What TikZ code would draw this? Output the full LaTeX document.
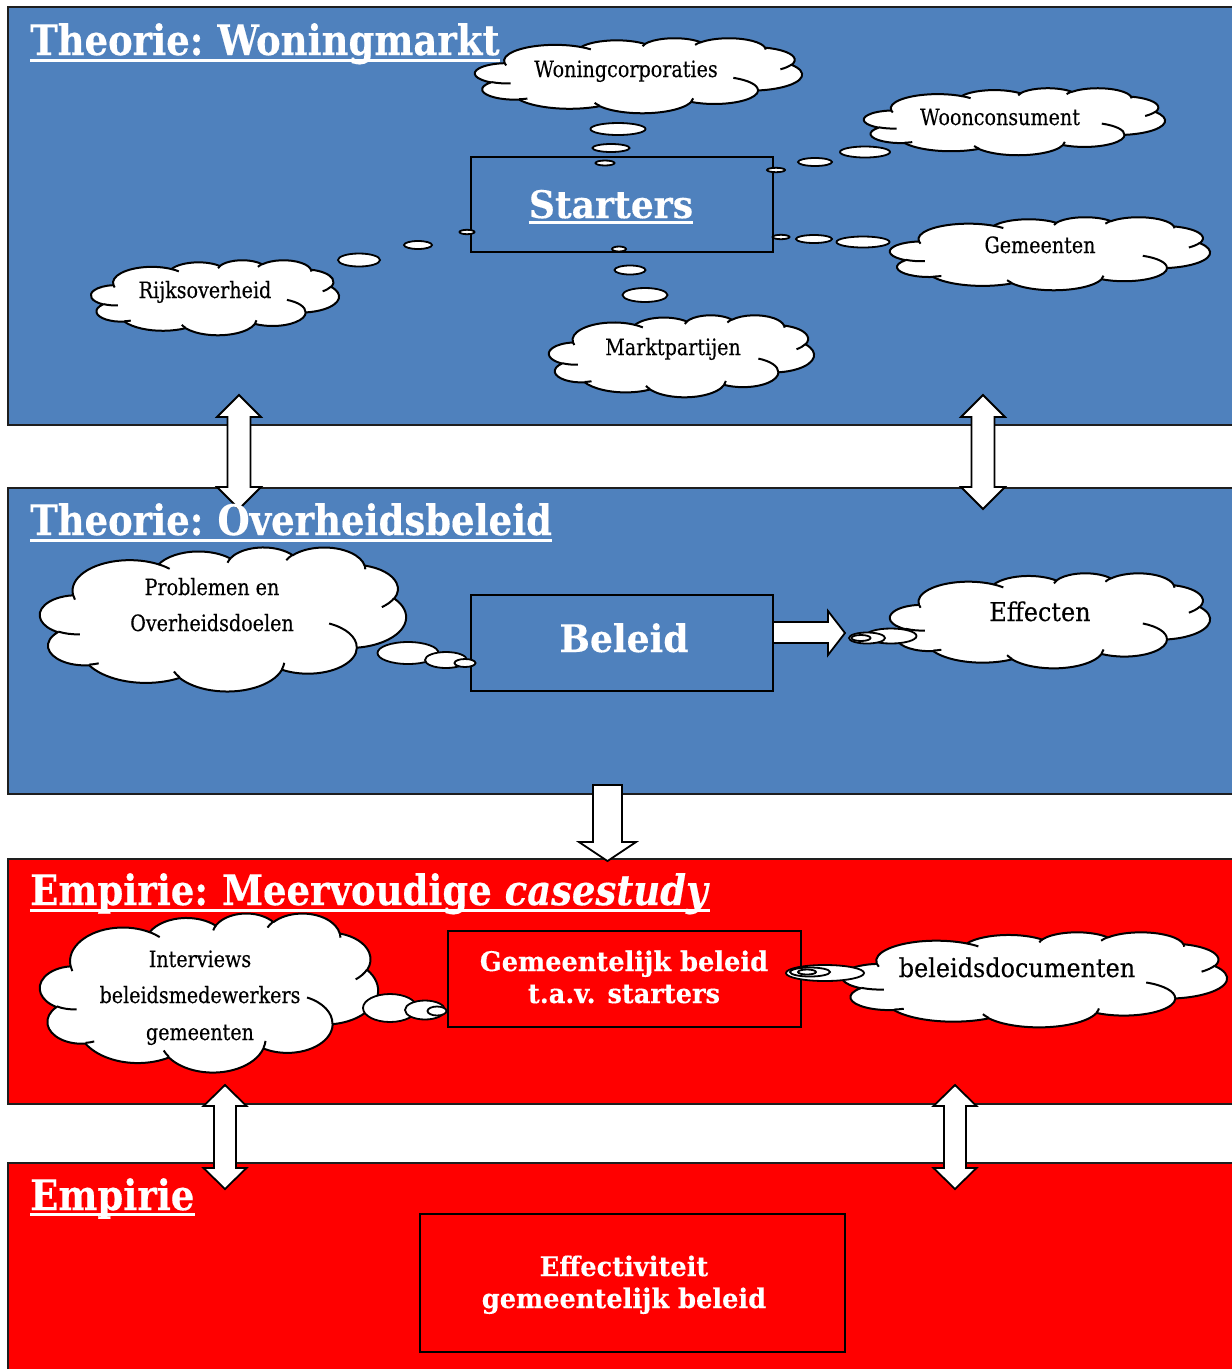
\documentclass[tikz,border=0pt]{standalone}
\usepackage{fontspec}
\setmainfont{DejaVu Serif}
\newfontfamily\headfont[FakeStretch=0.88, FakeBold=0.4]{DejaVu Serif}
\newfontfamily\boxfont[FakeStretch=0.95, FakeBold=0.3]{DejaVu Serif}
\newfontfamily\cloudfont[FakeStretch=0.85, FakeBold=0.25]{DejaVu Serif}
\newfontfamily\cloudfontl[FakeStretch=0.92, FakeBold=0.25]{DejaVu Serif}

\definecolor{pblue}{HTML}{4F81BD}
\definecolor{pred}{HTML}{FF0000}
\definecolor{pborder}{HTML}{1E1E1E}

% parametric angle on an ellipse for a given visual angle
\pgfmathdeclarefunction{vtp}{3}{%
  \begingroup
  \pgfmathsetmacro\vtpd{atan2((#1)*sin(#3),(#2)*cos(#3))-(#3)}%
  \pgfmathparse{(#3)+\vtpd-360*round(\vtpd/360)}%
  \pgfmathsmuggle\pgfmathresult
  \endgroup}

% elliptic arc given by radii, start angle and sweep
\newcommand\oarc[4]{arc[x radius=#1, y radius=#2, start angle={vtp(#1,#2,#3)}, end angle={vtp(#1,#2,(#3)+(#4))}]}

\tikzset{
  panelblue/.style={fill=pblue, draw=pborder, line width=1.6pt},
  panelred/.style={fill=pred, draw=pborder, line width=1.6pt},
  cloudline/.style={fill=white, draw=black, line width=2pt, line join=round},
  bubble/.style={fill=white, draw=black, line width=1.8pt},
  blockarrow/.style={fill=white, draw=black, line width=1.8pt, line join=miter},
  centerbox/.style={draw=black, line width=2pt, inner sep=0pt},
  headtxt/.style={text=white, inner sep=0pt, anchor=base west,
    font=\headfont\bfseries\fontsize{42}{42}\selectfont},
  bigtxt/.style={text=white, inner sep=0pt, anchor=base,
    font=\boxfont\bfseries\fontsize{38}{38}\selectfont},
  boxtxt/.style={text=white, inner sep=0pt, anchor=base,
    font=\boxfont\bfseries\fontsize{27}{27}\selectfont},
  cloudtxt/.style={text=black, inner sep=0pt, anchor=base,
    font=\cloudfont\fontsize{22.5}{22.5}\selectfont},
  cloudtxtl/.style={cloudtxt, font=\cloudfontl\fontsize{26}{26}\selectfont},
  uline/.style={white, line width=3pt},
}

% cloud outline with its inner folds, fitted to a box (left, top, width, height)
\newcommand\cloudshape[4]{%
  \begin{scope}[shift={(#1,#2)}, xscale=#3/43.2, yscale=#4/43.2]
    \filldraw[cloudline] (3.900,14.370)
      \oarc{6.753}{9.190}{-190.4875}{123.7805}
      \oarc{5.333}{7.267}{-144.1024}{89.9452}
      \oarc{4.365}{5.945}{-145.8079}{99.7230}
      \oarc{4.857}{6.595}{-130.9861}{117.2417}
      \oarc{5.333}{7.273}{-78.7089}{109.0269}
      \oarc{6.775}{9.220}{-46.2673}{130.2690}
      \oarc{5.785}{7.867}{0.6250}{114.0333}
      \oarc{6.752}{9.215}{22.4516}{115.1726}
      \oarc{7.720}{10.543}{66.2426}{75.7110}
      \oarc{4.360}{5.918}{-274.9421}{146.7356}
      \oarc{4.345}{5.945}{-246.8285}{152.5189}
      -- cycle;
    \draw[cloudline, fill=none]
      (4.693,26.177) \oarc{4.345}{5.945}{86.7420}{26.4295}
      (6.928,34.899) \oarc{4.360}{5.918}{73.6105}{11.4475}
      (16.478,39.090) \oarc{6.752}{9.215}{137.6242}{14.0811}
      (28.827,34.751) \oarc{6.752}{9.215}{6.4533}{15.9984}
      (34.129,22.954) \oarc{5.785}{7.867}{-70.2924}{70.9174}
      (41.798,15.354) \oarc{5.333}{7.273}{30.3180}{27.7515}
      (38.324,5.426) \oarc{4.857}{6.595}{-13.7443}{14.8589}
      (29.078,3.952) \oarc{4.857}{6.595}{-149.1815}{18.1954}
      (22.141,4.720) \oarc{4.365}{5.945}{-163.4943}{17.6864}
      (14.000,5.192) \oarc{6.753}{9.190}{-66.7070}{12.3194}
      (4.127,15.789) \oarc{6.753}{9.190}{157.6544}{11.8582};
  \end{scope}}

% vertical double block arrow: centre x, top tip, bottom tip, half head width, half shaft width, head length
\newcommand\dblarrow[6]{%
  \filldraw[blockarrow] (#1,#2) -- (#1+#4,#2+#6) -- (#1+#5,#2+#6) -- (#1+#5,#3-#6)
    -- (#1+#4,#3-#6) -- (#1,#3) -- (#1-#4,#3-#6) -- (#1-#5,#3-#6) -- (#1-#5,#2+#6)
    -- (#1-#4,#2+#6) -- cycle;}

% three thought bubbles, largest first
\newcommand\bubbles[9]{%
  \draw[bubble] #1 ellipse[x radius=#2, y radius=#3];
  \draw[bubble] #4 ellipse[x radius=#5, y radius=#6];
  \draw[bubble] #7 ellipse[x radius=#8, y radius=#9];}

\begin{document}
\begin{tikzpicture}[x=1pt, y=-1pt]
\useasboundingbox (0,0) rectangle (1232,1369);
\fill[white] (0,0) rectangle (1232,1369);

% panels
\path[panelblue] (8,7) rectangle (1240,425);
\path[panelblue] (8,488) rectangle (1240,794);
\path[panelred] (8,859) rectangle (1240,1104);
\path[panelred] (8,1163) rectangle (1240,1380);

% block arrows between the panels
\dblarrow{239}{395}{509}{22}{11.5}{22}
\dblarrow{983}{395}{509}{22}{11.5}{22}
\dblarrow{225}{1085}{1189}{21.5}{11}{21}
\dblarrow{955}{1085}{1189}{21.5}{11}{21}
\filldraw[blockarrow] (593,785) -- (622,785) -- (622,842) -- (636,842) -- (607.5,861)
  -- (579,842) -- (593,842) -- cycle;
\filldraw[blockarrow] (773,622) -- (828,622) -- (828,611) -- (845,633) -- (828,655)
  -- (828,643) -- (773,643) -- cycle;

% central boxes
\node[centerbox, fill=pblue, minimum width=302pt, minimum height=95pt] (startersbox) at (622,204.5) {};
\node[centerbox, fill=pblue, minimum width=302pt, minimum height=96pt] (beleidbox) at (622,643) {};
\node[centerbox, fill=pred, minimum width=353pt, minimum height=96pt] (gembox) at (624.5,978.5) {};
\node[centerbox, fill=pred, minimum width=425pt, minimum height=138pt] (effbox) at (632.5,1283) {};

% clouds
\cloudshape{475}{38}{327}{75}
\cloudshape{864}{88}{301}{67}
\cloudshape{890}{217}{320}{73}
\cloudshape{91}{260}{248}{75}
\cloudshape{549}{315}{265}{82}
\cloudshape{40}{547}{366}{144}
\cloudshape{890}{573}{320}{95}
\cloudshape{40}{913}{338}{159}
\cloudshape{842}{932}{385}{95}

% thought bubbles
\bubbles{(618,129)}{27.5}{6}{(611,148)}{18.5}{4}{(605,163)}{9.5}{2.5}
\bubbles{(865,152)}{25}{5.5}{(815,162)}{17}{4}{(776,170)}{9}{2.2}
\bubbles{(863,242)}{26.5}{5.5}{(814,239)}{18}{4}{(781,237)}{8.5}{2.2}
\bubbles{(359,260)}{21}{6.5}{(418,245)}{14}{4}{(467,232)}{7.5}{2.2}
\bubbles{(645,295)}{22.5}{7}{(630,270)}{15.5}{4.5}{(619,249)}{7}{2.5}
\bubbles{(408,653)}{30.5}{11}{(446,660)}{21}{8}{(465,663)}{10.5}{4}
\bubbles{(891,636)}{25.5}{7.5}{(867,638)}{18}{5.5}{(861,638)}{9.5}{3}
\bubbles{(390,1008)}{27}{14}{(425,1010)}{20}{9.5}{(437,1011)}{9.5}{4.5}
\bubbles{(825,973)}{39}{8}{(810,972)}{20}{4.5}{(807,972)}{9}{2.5}

% cloud texts
\node[cloudtxt] (wcorp) at (626,77) {Woningcorporaties};
\node[cloudtxt] (wcons) at (1000,125) {Woonconsument};
\node[cloudtxt] (gem) at (1040,253) {Gemeenten};
\node[cloudtxt] (rijk) at (205,298) {Rijksoverheid};
\node[cloudtxt] (markt) at (673,355) {Marktpartijen};
\node[cloudtxt] (prob1) at (212,595) {Problemen en};
\node[cloudtxt] (prob2) at (212,631) {Overheidsdoelen};
\node[cloudtxtl] (eff) at (1040,621) {Effecten};
\node[cloudtxt] (int1) at (200,967) {Interviews};
\node[cloudtxt] (int2) at (200,1003) {beleidsmedewerkers};
\node[cloudtxt] (int3) at (200,1040) {gemeenten};
\node[cloudtxtl] (docs) at (1017,977) {beleidsdocumenten};

% box texts
\node[bigtxt] (starters) at (611,218) {Starters};
\draw[uline] ([yshift=-4.5pt]starters.base west) -- ([yshift=-4.5pt]starters.base east);
\node[bigtxt] (beleid) at (624,652) {Beleid};
\node[boxtxt] (gem1) at (624,971) {Gemeentelijk beleid};
\node[boxtxt] (gem2) at (624,1003) {t.a.v. starters};
\node[boxtxt] (eff1) at (624,1276) {Effectiviteit};
\node[boxtxt] (eff2) at (624,1308) {gemeentelijk beleid};

% panel titles
\node[headtxt] (t1) at (30,55) {Theorie:\hspace{-3pt} Woningmarkt};
\draw[uline] ([yshift=-5pt]t1.base west) -- ([yshift=-5pt]t1.base east);
\node[headtxt] (t2) at (30,535) {Theorie:\hspace{-3pt} Overheidsbeleid};
\draw[uline] ([yshift=-5pt]t2.base west) -- ([yshift=-5pt]t2.base east);
\node[headtxt] (t3) at (30,905) {Empirie:\hspace{-3pt} Meervoudige \textit{casestudy}};
\draw[uline] ([yshift=-5pt]t3.base west) -- ([yshift=-5pt]t3.base east);
\node[headtxt] (t4) at (30,1210) {Empirie};
\draw[uline] ([yshift=-4pt]t4.base west) -- ([yshift=-4pt]t4.base east);
\end{tikzpicture}
\end{document}
